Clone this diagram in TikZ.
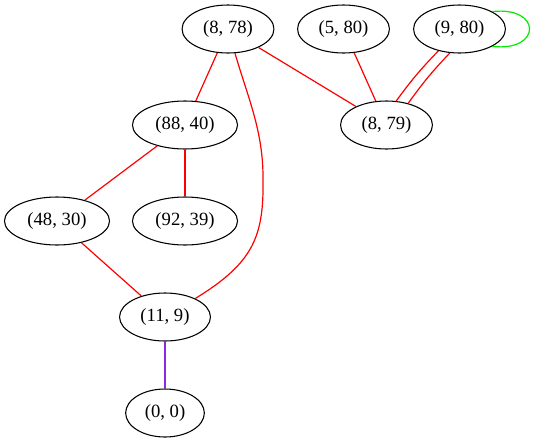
\documentclass[tikz,border=0pt]{standalone}
\usepackage{fontspec}
\setmainfont{Liberation Serif}
\usetikzlibrary{shapes.geometric}
\definecolor{edgered}{RGB}{255,0,0}
\definecolor{edgegreen}{RGB}{0,235,0}
\definecolor{edgeviolet}{RGB}{138,43,226}
\begin{document}
\begin{tikzpicture}[x=0.75pt,y=-0.75pt,
  state/.style={draw=black,line width=0.8pt,ellipse,inner xsep=5.7pt,inner ysep=2pt,
    minimum height=36pt,font=\fontsize{14pt}{16pt}\selectfont},
  link/.style={line width=0.9pt,draw=edgered},
  loopedge/.style={line width=0.9pt,draw=edgegreen},
  leaf/.style={line width=0.9pt,draw=edgeviolet}]
\useasboundingbox (0,0) rectangle (535,443);

% vertices
\node[state] (a) at (228,29) {(8, 78)};
\node[state] (b) at (343.5,29) {(5, 80)};
\node[state] (c) at (459.5,29) {(9, 80)};
\node[state] (d) at (185,125) {(88, 40)};
\node[state] (e) at (386.5,125) {(8, 79)};
\node[state] (f) at (57,221) {(48, 30)};
\node[state] (g) at (185,221) {(92, 39)};
\node[state] (h) at (165,317) {(11, 9)};
\node[state] (k) at (165,413) {(0, 0)};

% edges
\draw[link] (a) -- (d);
\draw[link] (a) -- (e);
\draw[link] (b) -- (e);
\draw[link] (c.226) to[bend right=4] (e.68);
\draw[link] (c.248) to[bend right=4] (e.45);
\draw[link] (d) -- (f);
\draw[link] (d) -- (g);
\draw[link] (f) -- (h);
\draw[link] (a) .. controls (247,95) and (263,130) .. (263,177)
                .. controls (264,235) and (255,262) .. (h);
\draw[leaf] (h) -- (k);
\draw[loopedge] (c.28) .. controls (542,6) and (542,52) .. (c.-28);
\end{tikzpicture}
\end{document}
